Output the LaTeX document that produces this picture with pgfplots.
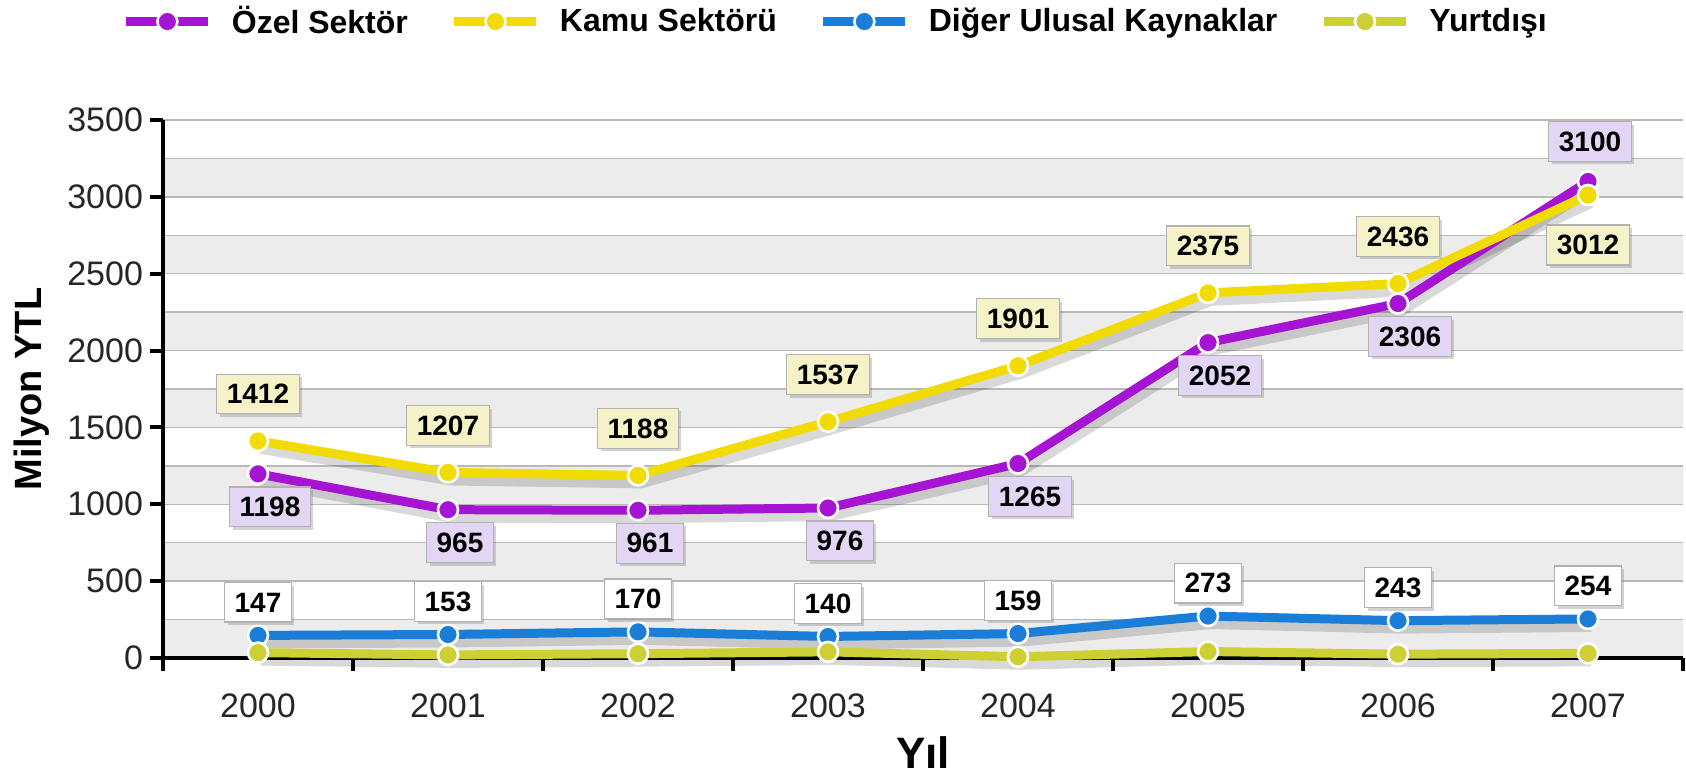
\documentclass[border=0pt]{standalone}
\usepackage{pgfplots}
\pgfplotsset{compat=1.18}
\usepackage{fontspec}
\setmainfont{Liberation Sans}
\usetikzlibrary{shadows}
\definecolor{ozel}{HTML}{A514D2}
\definecolor{kamu}{HTML}{F2DC00}
\definecolor{diger}{HTML}{1A7ED8}
\definecolor{yurt}{HTML}{CDD035}
\definecolor{ozelbox}{HTML}{E3D6F5}
\definecolor{kamubox}{HTML}{F4F2C6}
\definecolor{band}{HTML}{ECECEC}
\tikzset{lbl/.style={font=\fontsize{14}{14}\bfseries\selectfont, text=black, draw=gray!60, line width=0.6pt, inner xsep=5pt, inner ysep=5pt, drop shadow={shadow xshift=1.5pt, shadow yshift=-1.5pt, opacity=0.35}, anchor=center}}
\pgfplotsset{
  mainline/.style={#1, line width=4.5pt, line join=round, mark=*, mark size=5pt, mark options={fill=#1, draw=white, line width=1.3pt}},
  shadowline/.style={forget plot, black, opacity=0.15, line width=5pt, line join=round, no marks, xshift=1.5pt, yshift=-4pt},
  vallabels/.style={forget plot, draw=none, no marks, nodes near coords, every node near coord/.append style={lbl, #1}}
}
\begin{document}
\begin{tikzpicture}
\begin{axis}[
  set layers,
  clip=false,
  scale only axis, width=760pt, height=269pt,
  xmin=-0.5, xmax=7.5, ymin=0, ymax=3500,
  axis x line=bottom, axis y line=left,
  axis line style={-, line width=2pt, black},
  xtick={-0.5,0.5,1.5,2.5,3.5,4.5,5.5,6.5,7.5},
  xticklabels={2000,2001,2002,2003,2004,2005,2006,2007,},
  xticklabel style={xshift=47.5pt, yshift=-8pt},
  ytick={0,500,...,3500},
  minor ytick={250,750,...,3250},
  tick align=outside, major tick length=6.5pt, minor tick length=0pt,
  every tick/.style={black, line width=2pt},
  ymajorgrids, yminorgrids,
  major grid style={gray!55, line width=0.7pt},
  minor grid style={gray!55, line width=0.7pt},
  tick label style={font=\fontsize{17}{17}\selectfont, text=black!85},
  /pgf/number format/assume math mode=true,
  /pgf/number format/1000 sep={},
  ylabel={Milyon YTL}, xlabel={Yıl},
  every axis y label/.style={at={(axis description cs:0,0.5)}, xshift=-65.5pt, rotate=90, anchor=center, font=\fontsize{19}{19}\bfseries\selectfont},
  every axis x label/.style={at={(axis description cs:0.5,0)}, yshift=-47.5pt, anchor=center, font=\fontsize{22}{22}\bfseries\selectfont},
  legend style={at={(0.443,1.183)}, anchor=center, draw=none, fill=none, legend columns=4,
    font=\fontsize{16}{16}\bfseries\selectfont, column sep=0pt,
    /tikz/every odd column/.append style={column sep=7.5pt},
    /tikz/every even column/.append style={column sep=19pt}},
  legend cell align=left,
  legend image code/.code={\draw[#1, mark repeat=2, mark phase=2] plot coordinates {(0pt,0pt) (20.5pt,0pt) (41pt,0pt)};},
]
\begin{pgfonlayer}{axis background}
\pgfplotsinvokeforeach{0,500,1000,1500,2000,2500,3000}{
  \fill[band] (axis cs:-0.5,#1) rectangle (axis cs:7.5,#1+250);
}
\end{pgfonlayer}

% shadows
\addplot[shadowline] coordinates {(0,1198) (1,965) (2,961) (3,976) (4,1265) (5,2052) (6,2306) (7,3100)};
\addplot[shadowline] coordinates {(0,1412) (1,1207) (2,1188) (3,1537) (4,1901) (5,2375) (6,2436) (7,3012)};
\addplot[shadowline] coordinates {(0,147) (1,153) (2,170) (3,140) (4,159) (5,273) (6,243) (7,254)};
\addplot[shadowline] coordinates {(0,35) (1,20) (2,28) (3,40) (4,8) (5,42) (6,25) (7,30)};

% series
\addplot[mainline=ozel] coordinates {(0,1198) (1,965) (2,961) (3,976) (4,1265) (5,2052) (6,2306) (7,3100)};
\addlegendentry{Özel Sektör}
\addplot[mainline=kamu] coordinates {(0,1412) (1,1207) (2,1188) (3,1537) (4,1901) (5,2375) (6,2436) (7,3012)};
\addlegendentry{Kamu Sektörü}
\addplot[mainline=diger] coordinates {(0,147) (1,153) (2,170) (3,140) (4,159) (5,273) (6,243) (7,254)};
\addlegendentry{Diğer Ulusal Kaynaklar}
\addplot[mainline=yurt] coordinates {(0,35) (1,20) (2,28) (3,40) (4,8) (5,42) (6,25) (7,30)};
\addlegendentry{Yurtdışı}

% value labels
\addplot[vallabels={fill=kamubox, yshift=23.5pt}] coordinates {(0,1412) (1,1207) (2,1188) (3,1537) (4,1901) (5,2375) (6,2436)};
\addplot[vallabels={fill=kamubox, yshift=-25pt}] coordinates {(7,3012)};
\addplot[vallabels={fill=ozelbox, yshift=-16.5pt, xshift=6pt}] coordinates {(0,1198) (1,965) (2,961) (3,976) (4,1265) (5,2052) (6,2306)};
\addplot[vallabels={fill=ozelbox, yshift=20pt, xshift=1pt}] coordinates {(7,3100)};
\addplot[vallabels={fill=white, yshift=16.5pt}] coordinates {(0,147) (1,153) (2,170) (3,140) (4,159) (5,273) (6,243) (7,254)};
\end{axis}
\pgfresetboundingbox
\path[use as bounding box] (-81.5pt,-59pt) rectangle (761.5pt,329pt);
\end{tikzpicture}
\end{document}
